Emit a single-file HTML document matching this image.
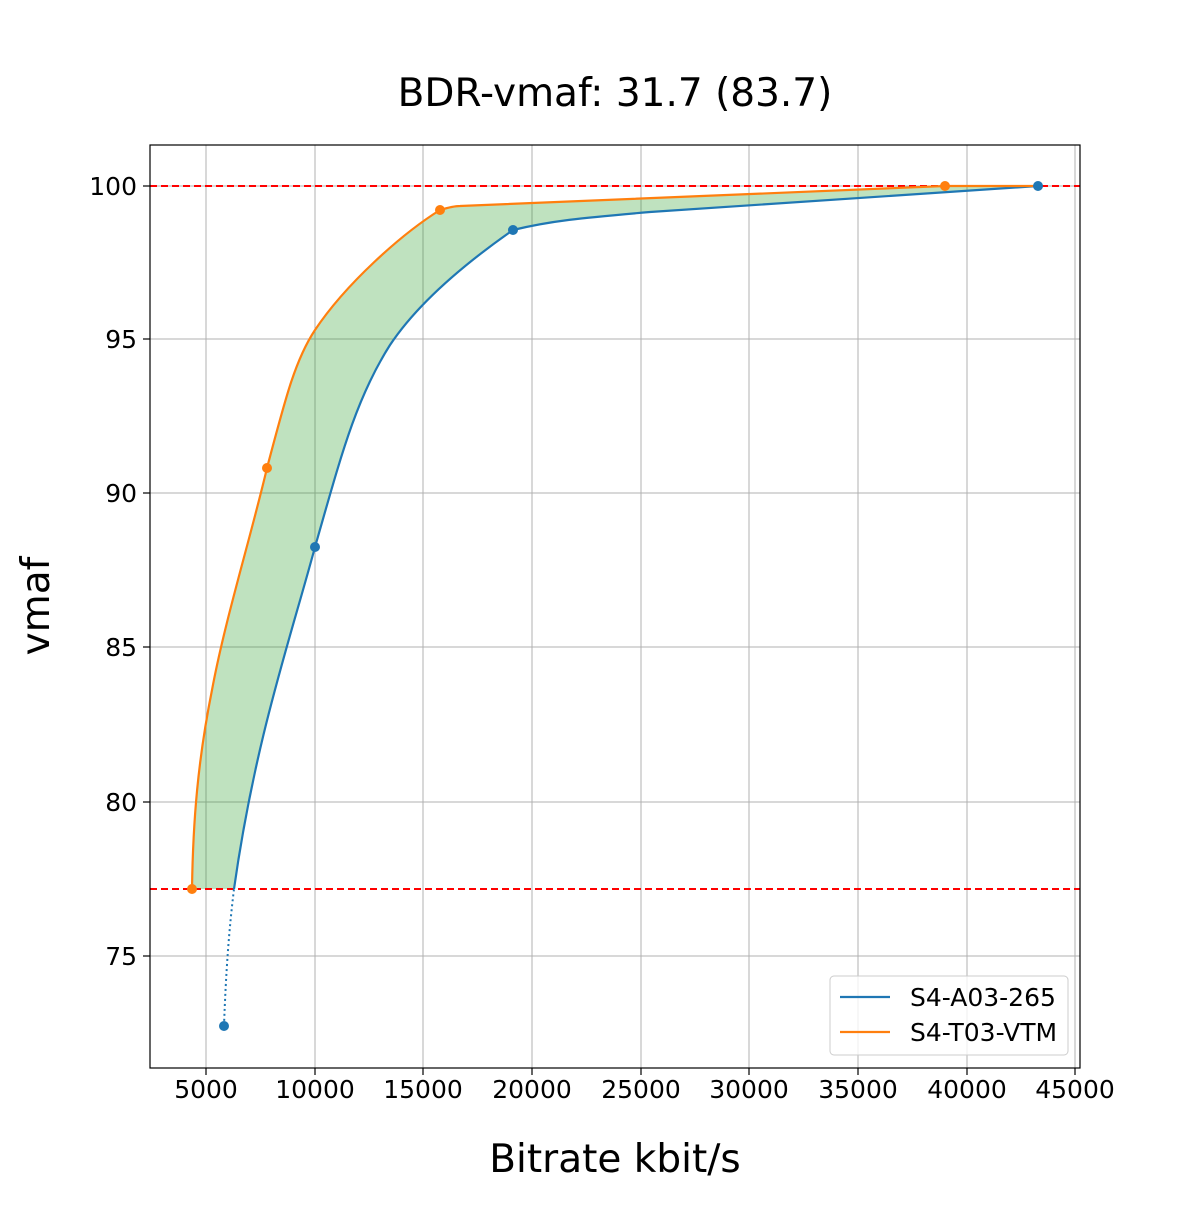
<!DOCTYPE html>
<html><head><meta charset="utf-8"><style>
body{margin:0;background:#fff}
text{font-family:"DejaVu Sans","Liberation Sans",sans-serif}
</style></head><body>
<svg width="1200" height="1200" viewBox="0 0 1200 1200" xmlns="http://www.w3.org/2000/svg">
<rect width="1200" height="1200" fill="#fff"/>
<text x="615" y="106" font-size="39" text-anchor="middle">BDR-vmaf: 31.7 (83.7)</text>
<g stroke="#b0b0b0" stroke-width="1">
<line x1="206" y1="145" x2="206" y2="1068"/><line x1="315" y1="145" x2="315" y2="1068"/>
<line x1="423" y1="145" x2="423" y2="1068"/><line x1="532" y1="145" x2="532" y2="1068"/>
<line x1="641" y1="145" x2="641" y2="1068"/><line x1="749" y1="145" x2="749" y2="1068"/>
<line x1="858" y1="145" x2="858" y2="1068"/><line x1="967" y1="145" x2="967" y2="1068"/>
<line x1="1075" y1="145" x2="1075" y2="1068"/>
<line x1="150" y1="186" x2="1080" y2="186"/><line x1="150" y1="339" x2="1080" y2="339"/>
<line x1="150" y1="493" x2="1080" y2="493"/><line x1="150" y1="647" x2="1080" y2="647"/>
<line x1="150" y1="802" x2="1080" y2="802"/><line x1="150" y1="956" x2="1080" y2="956"/>
</g>
<path d="M192,889 C193,820 198,760 212,690 C225,620 250,540 267,468 C285,400 295,360 315,330 C345,285 400,235 440,210 C450,207 455,206 460,206 L945,186 L1038,186 C950,192 800,202 650,212 C580,218 550,221 513,230 C470,260 420,300 390,345 C355,400 340,460 315,547 C290,640 255,740 234,889 Z" fill="#2ca02c" fill-opacity="0.3"/>
<line x1="150" y1="186" x2="1080" y2="186" stroke="#ff0000" stroke-width="2" stroke-dasharray="7,4"/>
<line x1="150" y1="889" x2="1080" y2="889" stroke="#ff0000" stroke-width="2" stroke-dasharray="7,4"/>
<path d="M224,1026 C226,970 229,930 234,889" fill="none" stroke="#1f77b4" stroke-width="2" stroke-dasharray="2,3"/>
<path d="M234,889 C255,740 290,640 315,547 C340,460 355,400 390,345 C420,300 470,260 513,230 C550,221 580,218 650,212 C800,202 950,192 1038,186" fill="none" stroke="#1f77b4" stroke-width="2.2"/>
<path d="M192,889 C193,820 198,760 212,690 C225,620 250,540 267,468 C285,400 295,360 315,330 C345,285 400,235 440,210 C450,207 455,206 460,206 L945,186 L1038,186" fill="none" stroke="#ff7f0e" stroke-width="2.2"/>
<g fill="#1f77b4"><circle cx="224" cy="1026" r="5"/><circle cx="315" cy="547" r="5"/><circle cx="513" cy="230" r="5"/><circle cx="1038" cy="186" r="5"/></g>
<g fill="#ff7f0e"><circle cx="192" cy="889" r="5"/><circle cx="267" cy="468" r="5"/><circle cx="440" cy="210" r="5"/><circle cx="945" cy="186" r="5"/></g>
<rect x="150" y="145" width="930" height="923" fill="none" stroke="#000" stroke-width="1.2"/>
<g stroke="#000" stroke-width="1.2">
<line x1="206" y1="1068" x2="206" y2="1075"/><line x1="315" y1="1068" x2="315" y2="1075"/>
<line x1="423" y1="1068" x2="423" y2="1075"/><line x1="532" y1="1068" x2="532" y2="1075"/>
<line x1="641" y1="1068" x2="641" y2="1075"/><line x1="749" y1="1068" x2="749" y2="1075"/>
<line x1="858" y1="1068" x2="858" y2="1075"/><line x1="967" y1="1068" x2="967" y2="1075"/>
<line x1="1075" y1="1068" x2="1075" y2="1075"/>
<line x1="143" y1="186" x2="150" y2="186"/><line x1="143" y1="339" x2="150" y2="339"/>
<line x1="143" y1="493" x2="150" y2="493"/><line x1="143" y1="647" x2="150" y2="647"/>
<line x1="143" y1="802" x2="150" y2="802"/><line x1="143" y1="956" x2="150" y2="956"/>
</g>
<g font-size="25" text-anchor="middle">
<text x="206" y="1098">5000</text><text x="315" y="1098">10000</text><text x="423" y="1098">15000</text>
<text x="532" y="1098">20000</text><text x="641" y="1098">25000</text><text x="749" y="1098">30000</text>
<text x="858" y="1098">35000</text><text x="967" y="1098">40000</text><text x="1075" y="1098">45000</text>
</g>
<g font-size="25" text-anchor="end">
<text x="137" y="195">100</text><text x="137" y="348">95</text><text x="137" y="502">90</text>
<text x="137" y="656">85</text><text x="137" y="811">80</text><text x="137" y="965">75</text>
</g>
<text x="615" y="1172" font-size="39" text-anchor="middle">Bitrate kbit/s</text>
<text x="0" y="0" font-size="39" text-anchor="middle" transform="translate(49,606) rotate(-90)">vmaf</text>
<rect x="830" y="976" width="238" height="79" rx="4" fill="#fff" fill-opacity="0.8" stroke="#cccccc"/>
<line x1="840" y1="997" x2="890" y2="997" stroke="#1f77b4" stroke-width="2.2"/>
<line x1="840" y1="1032" x2="890" y2="1032" stroke="#ff7f0e" stroke-width="2.2"/>
<text x="910" y="1006" font-size="25">S4-A03-265</text>
<text x="910" y="1041" font-size="25">S4-T03-VTM</text>
</svg>
</body></html>
